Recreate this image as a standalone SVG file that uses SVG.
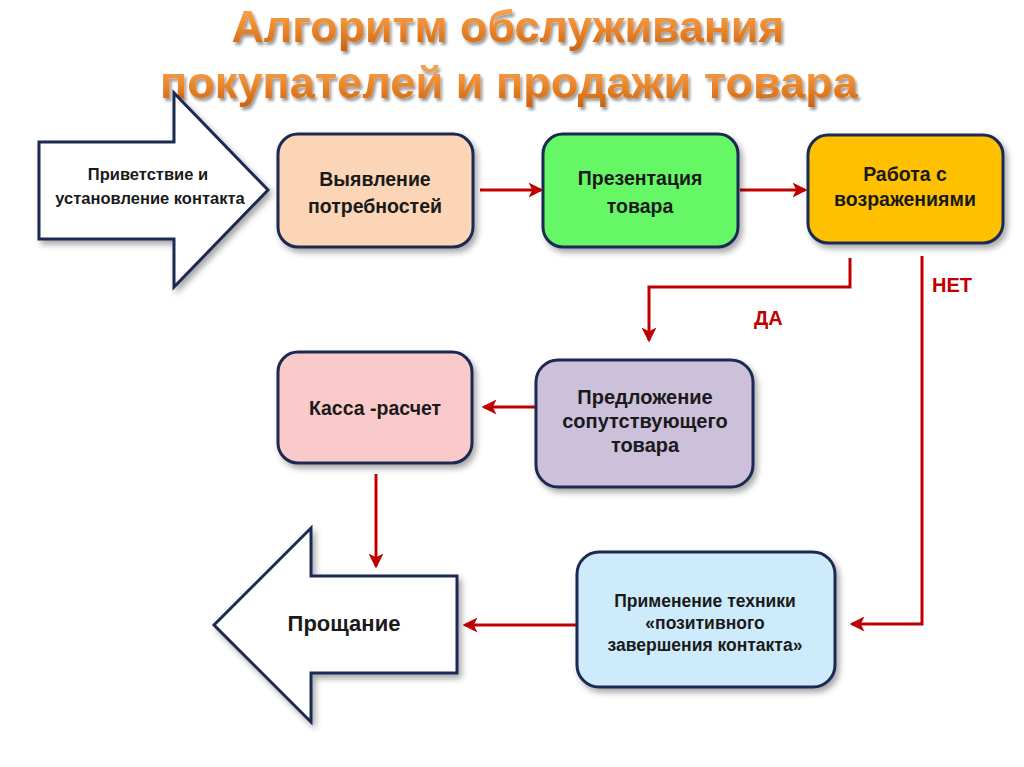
<svg xmlns="http://www.w3.org/2000/svg" width="1024" height="767" viewBox="0 0 1024 767">
<defs>
<linearGradient id="tg" x1="0" y1="0" x2="0" y2="1">
<stop offset="0" stop-color="#F9B062"/>
<stop offset="0.5" stop-color="#EE8A2E"/>
<stop offset="1" stop-color="#C8600F"/>
</linearGradient>
<filter id="sh" x="-10%" y="-10%" width="125%" height="130%">
<feGaussianBlur in="SourceAlpha" stdDeviation="3"/>
<feOffset dx="3" dy="4" result="b"/>
<feComponentTransfer><feFuncA type="linear" slope="0.35"/></feComponentTransfer>
<feMerge><feMergeNode/><feMergeNode in="SourceGraphic"/></feMerge>
</filter>
<filter id="tsh" x="-5%" y="-20%" width="110%" height="150%">
<feGaussianBlur in="SourceAlpha" stdDeviation="1.5"/>
<feOffset dx="2" dy="3"/>
<feComponentTransfer><feFuncA type="linear" slope="0.4"/></feComponentTransfer>
<feMerge><feMergeNode/><feMergeNode in="SourceGraphic"/></feMerge>
</filter>
<marker id="ah" viewBox="0 0 12 12" refX="10" refY="6" markerWidth="5" markerHeight="5" orient="auto" markerUnits="strokeWidth">
<path d="M0,0 L12,6 L0,12 L3,6 z" fill="#C00000"/>
</marker>
<style>
.box{stroke:#1C2A52;stroke-width:3;filter:url(#sh)}
.shape{fill:#fff;stroke:#1C2A52;stroke-width:3;stroke-linejoin:miter;filter:url(#sh)}
.t{font-family:"Liberation Sans",Arial,sans-serif;font-weight:bold;fill:#1a1a1a;text-anchor:middle}
.conn{fill:none;stroke:#C00000;stroke-width:3;marker-end:url(#ah)}
.lab{font-family:"Liberation Sans",Arial,sans-serif;font-weight:bold;fill:#C00000;font-size:20px}
.title{font-family:"Liberation Sans",Arial,sans-serif;font-weight:bold;fill:url(#tg);font-size:45px;text-anchor:middle;filter:url(#tsh)}
</style>
</defs>
<rect width="1024" height="767" fill="#fff"/>
<g id="title">
<text class="title" x="508" y="42" textLength="553" lengthAdjust="spacingAndGlyphs">Алгоритм обслуживания</text>
<text class="title" x="509" y="98" textLength="698" lengthAdjust="spacingAndGlyphs">покупателей и продажи товара</text>
</g>
<g id="connectors">
<line class="conn" x1="480" y1="190" x2="541" y2="190"/>
<line class="conn" x1="740" y1="190" x2="805" y2="190"/>
<polyline class="conn" points="850,258 850,287 649,287 649,340"/>
<polyline class="conn" points="922,256 922,624 852,624"/>
<line class="conn" x1="536" y1="407" x2="484" y2="407"/>
<line class="conn" x1="376" y1="474" x2="376" y2="566"/>
<line class="conn" x1="576" y1="625" x2="465" y2="625"/>
<text class="lab" x="754" y="325">ДА</text>
<text class="lab" x="932" y="292">НЕТ</text>
</g>
<g id="greeting">
<polygon class="shape" points="39,142 174,142 174,93 268,190 174,287 174,239 39,239"/>
<text class="t" font-size="16.5" x="148" y="180">Приветствие и</text>
<text class="t" font-size="16.5" x="150" y="204">установление контакта</text>
</g>
<g id="needs">
<rect class="box" x="278" y="134" width="195" height="113" rx="20" fill="#FBD5B5"/>
<text class="t" font-size="19.5" x="375" y="186">Выявление</text>
<text class="t" font-size="19.5" x="375" y="213">потребностей</text>
</g>
<g id="presentation">
<rect class="box" x="543" y="134" width="195" height="113" rx="20" fill="#66F766"/>
<text class="t" font-size="19.5" x="640" y="185">Презентация</text>
<text class="t" font-size="19.5" x="640" y="213">товара</text>
</g>
<g id="objections">
<rect class="box" x="808" y="135" width="195" height="108" rx="20" fill="#FFC000"/>
<text class="t" font-size="19.5" x="905" y="181">Работа с</text>
<text class="t" font-size="19.5" x="905" y="206">возражениями</text>
</g>
<g id="offer">
<rect class="box" x="536" y="360" width="217" height="127" rx="22" fill="#CCC0DA"/>
<text class="t" font-size="20" x="645" y="404">Предложение</text>
<text class="t" font-size="20" x="645" y="428">сопутствующего</text>
<text class="t" font-size="20" x="645" y="452">товара</text>
</g>
<g id="cashier">
<rect class="box" x="278" y="352" width="194" height="111" rx="20" fill="#FACACA"/>
<text class="t" font-size="19.5" x="375" y="415">Касса -расчет</text>
</g>
<g id="technique">
<rect class="box" x="577" y="552" width="258" height="135" rx="22" fill="#CDEBFB"/>
<text class="t" font-size="17.5" x="705" y="607">Применение техники</text>
<text class="t" font-size="17.5" x="705" y="629">«позитивного</text>
<text class="t" font-size="17.5" x="705" y="651">завершения контакта»</text>
</g>
<g id="farewell">
<polygon class="shape" points="457,576 311,576 311,528 214,625 311,722 311,673 457,673"/>
<text class="t" font-size="22" x="344" y="631">Прощание</text>
</g>
</svg>
